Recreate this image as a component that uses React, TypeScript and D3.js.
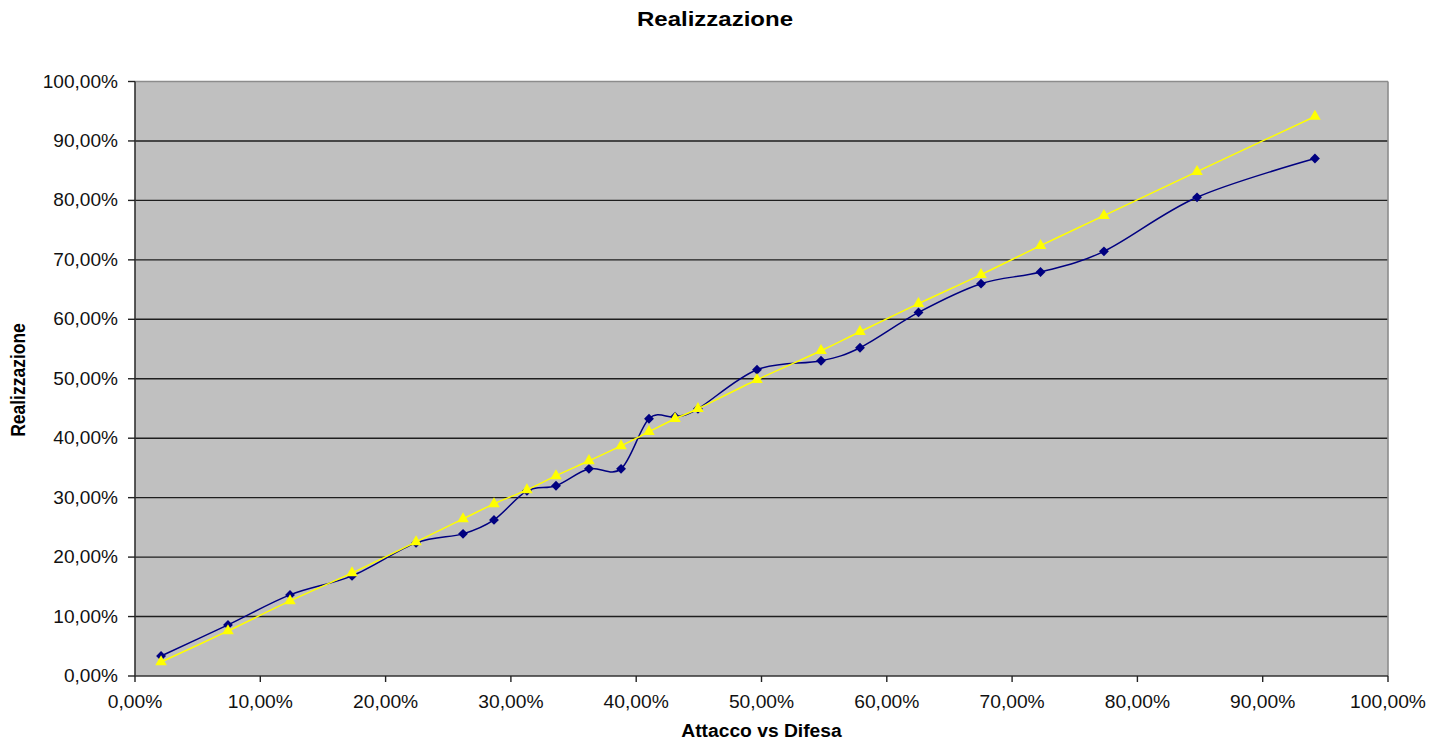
import React from 'react';
import * as d3 from 'd3';

// Attacco vs Difesa (x) and Realizzazione (y), in percent
const attaccoVsDifesa = [2.08, 7.42, 12.37, 17.32, 22.43, 26.18, 28.65, 31.28, 33.6, 36.23, 38.79, 41.02, 43.1, 44.93, 49.64, 54.75, 57.86, 62.53, 67.52, 72.27, 77.33, 84.76, 94.17];
const realizzazione = [3.37, 8.59, 13.64, 16.84, 22.39, 23.91, 26.26, 31.14, 32.0, 34.85, 34.85, 43.27, 43.6, 44.95, 51.52, 53.03, 55.22, 61.16, 65.99, 67.96, 71.43, 80.52, 87.04];
const atteso = [2.36, 7.58, 12.63, 17.34, 22.56, 26.43, 28.96, 31.31, 33.67, 36.2, 38.72, 41.08, 43.27, 44.95, 49.83, 54.71, 57.91, 62.63, 67.51, 72.39, 77.44, 84.85, 94.11];
const tickValues = [0, 10, 20, 30, 40, 50, 60, 70, 80, 90, 100];

const W = 1443;
const H = 740;
const plot = { left: 135, right: 1388, top: 81.5, bottom: 676 };
const font = '"Liberation Sans", Arial, sans-serif';

const fmt = (v: number) => `${v.toFixed(2).replace('.', ',')}%`;

export default function App() {
  const x = d3.scaleLinear().domain([0, 100]).range([plot.left, plot.right]);
  const y = d3.scaleLinear().domain([0, 100]).range([plot.bottom, plot.top]);

  const line = d3
    .line<[number, number]>()
    .x(d => x(d[0]))
    .y(d => y(d[1]))
    .curve(d3.curveCardinal.tension(0));

  const blue = attaccoVsDifesa.map((v, i) => [v, realizzazione[i]] as [number, number]);
  const yellow = attaccoVsDifesa.map((v, i) => [v, atteso[i]] as [number, number]);

  const diamond = d3.symbol().type(d3.symbolDiamond2).size(62)() as string;
  const triangle = d3.symbol().type(d3.symbolTriangle).size(58)() as string;

  return (
    <div style={{ position: 'absolute', left: 0, top: 0 }}>
      <svg width={W} height={H} style={{ display: 'block', background: '#fff' }}>
        <rect x={plot.left} y={plot.top} width={plot.right - plot.left} height={plot.bottom - plot.top} fill="#c0c0c0" />

        {/* gridlines */}
        {tickValues.slice(1, -1).map(t => (
          <line key={`g${t}`} x1={plot.left} x2={plot.right} y1={y(t)} y2={y(t)} stroke="#1e1e1e" strokeWidth={1.4} />
        ))}

        {/* border top/right */}
        <line x1={plot.left} x2={plot.right} y1={plot.top} y2={plot.top} stroke="#8c8c8c" strokeWidth={1.6} />
        <line x1={plot.right} x2={plot.right} y1={plot.top} y2={plot.bottom} stroke="#8c8c8c" strokeWidth={1.6} />

        {/* axes */}
        <line x1={plot.left} x2={plot.left} y1={plot.top} y2={plot.bottom} stroke="#333" strokeWidth={1.6} />
        <line x1={plot.left} x2={plot.right} y1={plot.bottom} y2={plot.bottom} stroke="#333" strokeWidth={1.6} />

        {tickValues.map(t => (
          <g key={`y${t}`}>
            <line x1={plot.left - 7} x2={plot.left} y1={y(t)} y2={y(t)} stroke="#222" strokeWidth={1.4} />
            <text
              transform={`translate(118,${y(t) + 6}) scale(1.09,1)`}
              textAnchor="end"
              fontFamily={font}
              fontSize={17.5}
              fill="#111"
            >
              {fmt(t)}
            </text>
          </g>
        ))}

        {tickValues.map(t => (
          <g key={`x${t}`}>
            <line x1={x(t)} x2={x(t)} y1={plot.bottom} y2={plot.bottom + 6} stroke="#222" strokeWidth={1.4} />
            <text
              transform={`translate(${x(t)},707.5) scale(1.1,1)`}
              textAnchor="middle"
              fontFamily={font}
              fontSize={17.5}
              fill="#111"
            >
              {fmt(t)}
            </text>
          </g>
        ))}

        {/* series */}
        <path d={line(blue) as string} fill="none" stroke="#000080" strokeWidth={1.5} />
        {blue.map((d, i) => (
          <path key={`b${i}`} d={diamond} transform={`translate(${x(d[0])},${y(d[1])})`} fill="#000080" />
        ))}
        <path d={line(yellow) as string} fill="none" stroke="#ffff00" strokeWidth={1.5} />
        {yellow.map((d, i) => (
          <path key={`t${i}`} d={triangle} transform={`translate(${x(d[0])},${y(d[1])})`} fill="#ffff00" />
        ))}

        {/* titles */}
        <text
          transform="translate(715,26) scale(1.2,1)"
          textAnchor="middle"
          fontFamily={font}
          fontWeight="bold"
          fontSize={20}
          fill="#000"
        >
          Realizzazione
        </text>
        <text
          transform="translate(761.5,737) scale(1.07,1)"
          textAnchor="middle"
          fontFamily={font}
          fontWeight="bold"
          fontSize={18}
          fill="#000"
        >
          Attacco vs Difesa
        </text>
        <text
          transform="translate(25,380) rotate(-90) scale(1,1.15)"
          textAnchor="middle"
          fontFamily={font}
          fontWeight="bold"
          fontSize={17.5}
          fill="#000"
        >
          Realizzazione
        </text>
      </svg>
    </div>
  );
}
